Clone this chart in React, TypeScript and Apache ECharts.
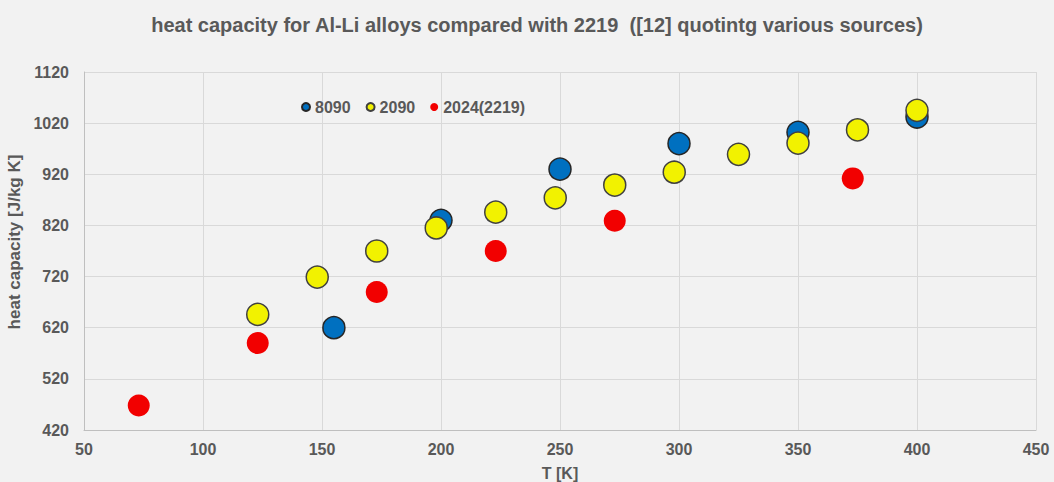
import React, { useEffect, useRef } from "react";
import * as echarts from "echarts";

const seriesNames = ["8090", "2090", "2024(2219)"];
const tempsA8090 = [155, 200, 250, 300, 350, 400];
const cpA8090 = [620, 830, 930, 980, 1002, 1032];
const tempsA2090 = [123, 148, 173, 198, 223, 248, 273, 298, 325, 350, 375, 400];
const cpA2090 = [646, 719, 770, 815, 846, 874, 899, 924, 959, 981, 1007, 1045];
const temps2024 = [73, 123, 173, 223, 273, 373];
const cp2024 = [468, 590, 690, 770, 829, 912];
const xTicks = { min: 50, max: 450, interval: 50 };
const yTicks = { min: 420, max: 1120, interval: 100 };

const textColor = "#595959";
const font = "'Liberation Sans', Arial, sans-serif";

function pairs(xs: number[], ys: number[]) {
  return xs.map((x, i) => [x, ys[i]]);
}

export default function App() {
  const ref = useRef<HTMLDivElement>(null);
  useEffect(() => {
    if (!ref.current) return;
    const chart = echarts.init(ref.current, undefined, { renderer: "svg" });
    const labelStyle = { color: textColor, fontFamily: font, fontSize: 16, fontWeight: "bold" };
    chart.setOption({
      animation: false,
      backgroundColor: "#f2f2f2",
      title: {
        text: "heat capacity for Al-Li alloys compared with 2219  ([12] quotintg various sources)",
        left: 532,
        textAlign: "center",
        top: 10,
        textStyle: { color: textColor, fontFamily: font, fontSize: 20, fontWeight: "bold" },
      },
      legend: {
        left: 296,
        top: 94,
        icon: "circle",
        itemWidth: 8,
        itemHeight: 8,
        itemGap: 15,
        textStyle: { ...labelStyle },
        data: seriesNames,
      },
      grid: { left: 84, right: 18, top: 72, bottom: 52, outerBoundsMode: "none", containLabel: false },
      xAxis: {
        type: "value",
        min: xTicks.min,
        max: xTicks.max,
        interval: xTicks.interval,
        name: "T [K]",
        nameLocation: "middle",
        nameGap: 35,
        nameTextStyle: { ...labelStyle },
        axisLine: { show: true, lineStyle: { color: "#bfbfbf" } },
        axisTick: { show: false },
        axisLabel: { ...labelStyle, margin: 11 },
        splitLine: { show: true, lineStyle: { color: "#d9d9d9" } },
      },
      yAxis: {
        type: "value",
        min: yTicks.min,
        max: yTicks.max,
        interval: yTicks.interval,
        name: "heat capacity [J/kg K]",
        nameLocation: "middle",
        nameGap: 52,
        nameTextStyle: { ...labelStyle, fontSize: 17, padding: [0, 0, 0, 18] },
        axisLine: { show: true, lineStyle: { color: "#bfbfbf" } },
        axisTick: { show: false },
        axisLabel: { ...labelStyle, margin: 15, formatter: (v: number) => String(v) },
        splitLine: { show: true, lineStyle: { color: "#d9d9d9" } },
      },
      series: [
        {
          name: seriesNames[0],
          type: "scatter",
          symbolSize: 22,
          itemStyle: { color: "#0070c0", borderColor: "#262626", borderWidth: 1.5, opacity: 1 },
          data: pairs(tempsA8090, cpA8090),
        },
        {
          name: seriesNames[1],
          type: "scatter",
          symbolSize: 22,
          itemStyle: { color: "#f2f200", borderColor: "#404040", borderWidth: 1.5, opacity: 1 },
          data: pairs(tempsA2090, cpA2090),
        },
        {
          name: seriesNames[2],
          type: "scatter",
          symbolSize: 22,
          itemStyle: { color: "#f20000", opacity: 1 },
          data: pairs(temps2024, cp2024),
        },
      ],
    });
    return () => chart.dispose();
  }, []);
  return (
    <div
      ref={ref}
      style={{ position: "fixed", left: 0, top: 0, width: 1054, height: 482 }}
    />
  );
}
